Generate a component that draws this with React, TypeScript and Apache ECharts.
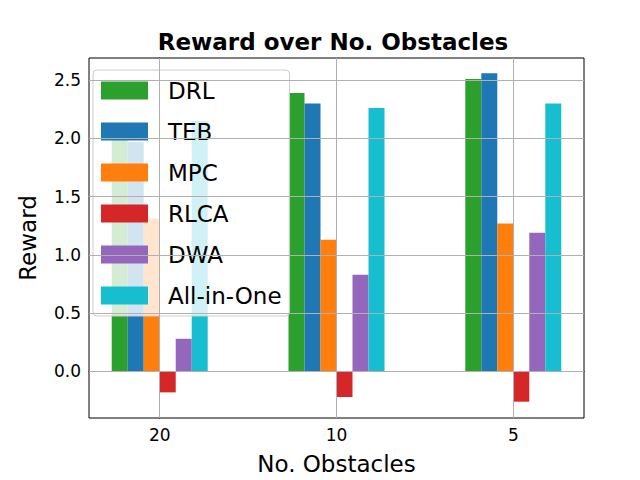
import { useEffect, useRef } from 'react';
import * as echarts from 'echarts';

const groups = ['20', '10', '5'];
const methods = ['DRL', 'TEB', 'MPC', 'RLCA', 'DWA', 'All-in-One'];
const colors = ['#2ca02c', '#1f77b4', '#ff7f0e', '#d62728', '#9467bd', '#17becf'];
const drl = [2.05, 2.39, 2.51];
const teb = [1.97, 2.3, 2.56];
const mpc = [1.31, 1.13, 1.27];
const rlca = [-0.18, -0.22, -0.26];
const dwa = [0.28, 0.83, 1.19];
const allInOne = [2.15, 2.26, 2.3];
const yTicks = [0, 0.5, 1, 1.5, 2, 2.5];
const xTicks = [0, 1, 2];

const font = 'DejaVu Sans';

export default function App() {
  const chartRef = useRef<HTMLDivElement>(null);

  useEffect(() => {
    if (!chartRef.current) return;
    const chart = echarts.init(chartRef.current, null, { renderer: 'svg' });
    const values = [drl, teb, mpc, rlca, dwa, allInOne];

    // body has an 8px margin, so everything is shifted by -8
    const option = {
      animation: false,
      textStyle: { fontFamily: font },
      title: {
        text: 'Reward over No. Obstacles',
        left: 320,
        textAlign: 'center',
        top: 17,
        textStyle: { fontSize: 23, fontWeight: 'bold', color: '#000', fontFamily: font }
      },
      legend: {
        orient: 'vertical',
        left: 85,
        top: 62,
        itemWidth: 47,
        itemHeight: 18,
        itemGap: 18,
        padding: [9, 8, 9, 8],
        backgroundColor: 'rgba(255,255,255,0.8)',
        borderColor: '#ccc',
        borderWidth: 1,
        borderRadius: 4,
        icon: 'rect',
        textStyle: { fontSize: 23, lineHeight: 18, color: '#000', fontFamily: font, padding: [0, 0, 0, 15] },
        data: methods
      },
      grid: { left: 72, right: 56, top: 50, bottom: 45, show: true, borderColor: '#000', borderWidth: 1 },
      xAxis: {
        type: 'value',
        min: -0.4,
        max: 2.4,
        name: 'No. Obstacles',
        nameLocation: 'middle',
        nameGap: 34,
        nameTextStyle: { fontSize: 23, color: '#000', fontFamily: font },
        axisLine: { show: true, lineStyle: { color: '#000' } },
        axisTick: { show: true, customValues: xTicks, length: 5, lineStyle: { color: '#000' } },
        axisLabel: {
          customValues: xTicks,
          fontSize: 17,
          color: '#000',
          formatter: (v: number) => groups[Math.round(v)] ?? ''
        },
        splitLine: { show: false }
      },
      yAxis: {
        type: 'value',
        min: -0.4,
        max: 2.69,
        name: 'Reward',
        nameLocation: 'middle',
        nameGap: 50,
        nameTextStyle: { fontSize: 23, color: '#000', fontFamily: font },
        axisLine: { show: true, lineStyle: { color: '#000' } },
        axisTick: { show: true, customValues: yTicks, length: 5, lineStyle: { color: '#000' } },
        axisLabel: {
          customValues: yTicks,
          fontSize: 17,
          color: '#000',
          formatter: (v: number) => v.toFixed(1)
        },
        splitLine: { show: false }
      },
      series: [
        {
          type: 'line',
          data: [],
          silent: true,
          z: 0,
          markLine: {
            silent: true,
            symbol: 'none',
            label: { show: false },
            lineStyle: { color: '#b0b0b0', type: 'solid', width: 1 },
            data: [...xTicks.map((x) => ({ xAxis: x })), ...yTicks.map((y) => ({ yAxis: y }))]
          }
        },
        ...methods.map((name, i) => ({
          name,
          type: 'bar',
          z: 2,
          barWidth: 16,
          barGap: '0%',
          itemStyle: { color: colors[i] },
          data: values[i].map((v, j) => [j, v])
        }))
      ]
    };

    chart.setOption(option);
    return () => chart.dispose();
  }, []);

  return <div ref={chartRef} style={{ width: 632, height: 472 }} />;
}
